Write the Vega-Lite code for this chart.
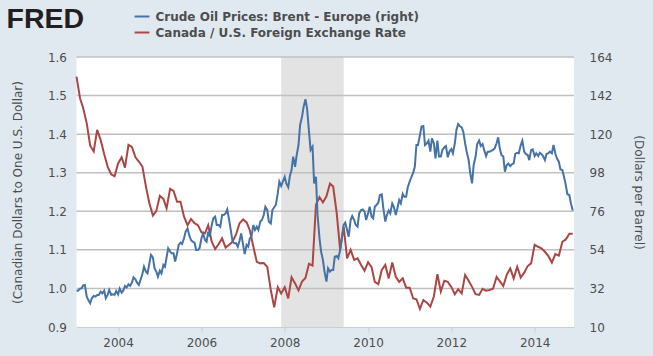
{"$schema":"https://vega.github.io/schema/vega-lite/v6.json","width":497.5,"height":270,"autosize":{"type":"none"},"padding":{"left":76.5,"top":57,"right":79,"bottom":29},"background":"#e1e9f0","title":{"text":"FRED","anchor":"start","frame":"group","dx":-70,"dy":48,"offset":0,"baseline":"alphabetic","font":"Liberation Sans","fontSize":28.5,"fontWeight":"bold","color":"#231f20"},"view":{"fill":"#ffffff","stroke":null},"datasets":{"recession":[{"start":"2007-12-01","end":"2009-06-01"}],"grid":[{"level":1.0},{"level":1.1},{"level":1.2},{"level":1.3},{"level":1.4},{"level":1.5},{"level":1.6}],"brent":[
{"date":"2003-01-01","usd":30.7},{"date":"2003-01-15","usd":30.7},{"date":"2003-02-01","usd":31.9},{"date":"2003-02-15","usd":32.1},{"date":"2003-03-01","usd":33.8},{"date":"2003-03-15","usd":34.0},{"date":"2003-04-01","usd":27.3},{"date":"2003-04-15","usd":25.4},{"date":"2003-05-01","usd":23.5},{"date":"2003-05-15","usd":26.4},{"date":"2003-06-01","usd":27.7},{"date":"2003-06-15","usd":27.3},{"date":"2003-07-01","usd":28.3},{"date":"2003-07-15","usd":28.3},{"date":"2003-08-01","usd":30.2},{"date":"2003-08-15","usd":29.2},{"date":"2003-09-01","usd":30.7},{"date":"2003-09-15","usd":26.4},{"date":"2003-10-01","usd":28.3},{"date":"2003-10-15","usd":31.1},{"date":"2003-11-01","usd":28.3},{"date":"2003-11-15","usd":28.6},{"date":"2003-12-01","usd":28.3},{"date":"2003-12-15","usd":30.5},
{"date":"2004-01-01","usd":28.6},{"date":"2004-01-15","usd":31.9},{"date":"2004-02-01","usd":29.6},{"date":"2004-02-15","usd":30.7},{"date":"2004-03-01","usd":33.4},{"date":"2004-03-15","usd":32.6},{"date":"2004-04-01","usd":34.3},{"date":"2004-04-15","usd":33.4},{"date":"2004-05-01","usd":35.3},{"date":"2004-05-15","usd":38.3},{"date":"2004-06-01","usd":37.2},{"date":"2004-06-15","usd":35.3},{"date":"2004-07-01","usd":34.0},{"date":"2004-07-15","usd":36.8},{"date":"2004-08-01","usd":40.2},{"date":"2004-08-15","usd":44.4},{"date":"2004-09-01","usd":41.6},{"date":"2004-09-15","usd":40.6},{"date":"2004-10-01","usd":46.3},{"date":"2004-10-15","usd":51.1},{"date":"2004-11-01","usd":49.7},{"date":"2004-11-15","usd":43.5},{"date":"2004-12-01","usd":41.6},{"date":"2004-12-15","usd":38.7},
{"date":"2005-01-01","usd":42.1},{"date":"2005-01-15","usd":40.6},{"date":"2005-02-01","usd":45.4},{"date":"2005-02-15","usd":44.4},{"date":"2005-03-01","usd":49.7},{"date":"2005-03-15","usd":54.9},{"date":"2005-04-01","usd":53.0},{"date":"2005-04-15","usd":52.0},{"date":"2005-05-01","usd":52.0},{"date":"2005-05-15","usd":47.3},{"date":"2005-06-01","usd":52.0},{"date":"2005-06-15","usd":56.8},{"date":"2005-07-01","usd":58.1},{"date":"2005-07-15","usd":57.3},{"date":"2005-08-01","usd":60.6},{"date":"2005-08-15","usd":64.4},{"date":"2005-09-01","usd":66.3},{"date":"2005-09-15","usd":62.5},{"date":"2005-10-01","usd":59.6},{"date":"2005-10-15","usd":58.7},{"date":"2005-11-01","usd":58.1},{"date":"2005-11-15","usd":53.9},{"date":"2005-12-01","usd":53.9},{"date":"2005-12-15","usd":54.9},
{"date":"2006-01-01","usd":60.6},{"date":"2006-01-15","usd":63.4},{"date":"2006-02-01","usd":59.6},{"date":"2006-02-15","usd":58.7},{"date":"2006-03-01","usd":64.4},{"date":"2006-03-15","usd":61.5},{"date":"2006-04-01","usd":68.2},{"date":"2006-04-15","usd":72.0},{"date":"2006-05-01","usd":72.9},{"date":"2006-05-15","usd":68.2},{"date":"2006-06-01","usd":68.2},{"date":"2006-06-15","usd":67.2},{"date":"2006-07-01","usd":73.9},{"date":"2006-07-15","usd":73.9},{"date":"2006-08-01","usd":74.8},{"date":"2006-08-15","usd":77.1},{"date":"2006-09-01","usd":71.0},{"date":"2006-09-15","usd":65.3},{"date":"2006-10-01","usd":58.7},{"date":"2006-10-15","usd":57.7},{"date":"2006-11-01","usd":57.7},{"date":"2006-11-15","usd":55.8},{"date":"2006-12-01","usd":59.2},{"date":"2006-12-15","usd":63.4},
{"date":"2007-01-01","usd":56.8},{"date":"2007-01-15","usd":51.6},{"date":"2007-02-01","usd":56.8},{"date":"2007-02-15","usd":55.8},{"date":"2007-03-01","usd":60.6},{"date":"2007-03-15","usd":61.5},{"date":"2007-04-01","usd":68.2},{"date":"2007-04-15","usd":65.3},{"date":"2007-05-01","usd":67.2},{"date":"2007-05-15","usd":65.3},{"date":"2007-06-01","usd":70.1},{"date":"2007-06-15","usd":71.0},{"date":"2007-07-01","usd":73.9},{"date":"2007-07-15","usd":78.6},{"date":"2007-08-01","usd":76.7},{"date":"2007-08-15","usd":70.1},{"date":"2007-09-01","usd":69.1},{"date":"2007-09-15","usd":76.7},{"date":"2007-10-01","usd":78.3},{"date":"2007-10-15","usd":79.6},{"date":"2007-11-01","usd":86.2},{"date":"2007-11-15","usd":92.9},{"date":"2007-12-01","usd":90.4},{"date":"2007-12-15","usd":92.9},
{"date":"2008-01-01","usd":95.7},{"date":"2008-01-15","usd":91.9},{"date":"2008-02-01","usd":89.7},{"date":"2008-02-15","usd":96.1},{"date":"2008-03-01","usd":99.5},{"date":"2008-03-15","usd":107.2},{"date":"2008-04-01","usd":101.4},{"date":"2008-04-15","usd":108.1},{"date":"2008-05-01","usd":113.8},{"date":"2008-05-15","usd":125.2},{"date":"2008-06-01","usd":130.0},{"date":"2008-06-15","usd":135.7},{"date":"2008-07-01","usd":139.9},{"date":"2008-07-15","usd":134.7},{"date":"2008-08-01","usd":121.4},{"date":"2008-08-15","usd":111.0},{"date":"2008-09-01","usd":112.9},{"date":"2008-09-15","usd":91.9},{"date":"2008-10-01","usd":95.7},{"date":"2008-10-15","usd":73.9},{"date":"2008-11-01","usd":60.6},{"date":"2008-11-15","usd":53.0},{"date":"2008-12-01","usd":48.2},{"date":"2008-12-15","usd":41.6},
{"date":"2009-01-01","usd":35.9},{"date":"2009-01-15","usd":43.5},{"date":"2009-02-01","usd":41.6},{"date":"2009-02-15","usd":42.5},{"date":"2009-03-01","usd":42.5},{"date":"2009-03-15","usd":50.1},{"date":"2009-04-01","usd":50.5},{"date":"2009-04-15","usd":49.2},{"date":"2009-05-01","usd":53.9},{"date":"2009-05-15","usd":60.6},{"date":"2009-06-01","usd":68.2},{"date":"2009-06-15","usd":69.5},{"date":"2009-07-01","usd":65.3},{"date":"2009-07-15","usd":61.5},{"date":"2009-08-01","usd":71.0},{"date":"2009-08-15","usd":73.3},{"date":"2009-09-01","usd":71.0},{"date":"2009-09-15","usd":68.2},{"date":"2009-10-01","usd":67.2},{"date":"2009-10-15","usd":74.8},{"date":"2009-11-01","usd":76.7},{"date":"2009-11-15","usd":77.1},{"date":"2009-12-01","usd":75.8},{"date":"2009-12-15","usd":71.0},
{"date":"2010-01-01","usd":74.8},{"date":"2010-01-15","usd":78.6},{"date":"2010-02-01","usd":72.9},{"date":"2010-02-15","usd":72.0},{"date":"2010-03-01","usd":78.6},{"date":"2010-03-15","usd":79.6},{"date":"2010-04-01","usd":80.9},{"date":"2010-04-15","usd":85.3},{"date":"2010-05-01","usd":85.7},{"date":"2010-05-15","usd":77.7},{"date":"2010-06-01","usd":70.1},{"date":"2010-06-15","usd":73.9},{"date":"2010-07-01","usd":76.4},{"date":"2010-07-15","usd":74.8},{"date":"2010-08-01","usd":80.5},{"date":"2010-08-15","usd":78.6},{"date":"2010-09-01","usd":73.9},{"date":"2010-09-15","usd":77.7},{"date":"2010-10-01","usd":82.4},{"date":"2010-10-15","usd":80.5},{"date":"2010-11-01","usd":85.9},{"date":"2010-11-15","usd":84.3},{"date":"2010-12-01","usd":84.3},{"date":"2010-12-15","usd":89.7},
{"date":"2011-01-01","usd":92.9},{"date":"2011-01-15","usd":95.4},{"date":"2011-02-01","usd":98.0},{"date":"2011-02-15","usd":101.4},{"date":"2011-03-01","usd":113.8},{"date":"2011-03-15","usd":113.8},{"date":"2011-04-01","usd":119.5},{"date":"2011-04-15","usd":124.3},{"date":"2011-05-01","usd":124.6},{"date":"2011-05-15","usd":113.8},{"date":"2011-06-01","usd":114.8},{"date":"2011-06-15","usd":116.3},{"date":"2011-07-01","usd":110.0},{"date":"2011-07-15","usd":117.6},{"date":"2011-08-01","usd":114.8},{"date":"2011-08-15","usd":106.2},{"date":"2011-09-01","usd":116.3},{"date":"2011-09-15","usd":107.2},{"date":"2011-10-01","usd":107.2},{"date":"2011-10-15","usd":111.0},{"date":"2011-11-01","usd":112.5},{"date":"2011-11-15","usd":113.2},{"date":"2011-12-01","usd":106.8},{"date":"2011-12-15","usd":110.0},
{"date":"2012-01-01","usd":111.5},{"date":"2012-01-15","usd":109.1},{"date":"2012-02-01","usd":114.8},{"date":"2012-02-15","usd":122.4},{"date":"2012-03-01","usd":125.8},{"date":"2012-03-15","usd":124.6},{"date":"2012-04-01","usd":123.9},{"date":"2012-04-15","usd":121.4},{"date":"2012-05-01","usd":114.8},{"date":"2012-05-15","usd":110.0},{"date":"2012-06-01","usd":105.2},{"date":"2012-06-15","usd":97.6},{"date":"2012-07-01","usd":91.9},{"date":"2012-07-15","usd":102.4},{"date":"2012-08-01","usd":107.2},{"date":"2012-08-15","usd":114.4},{"date":"2012-09-01","usd":116.3},{"date":"2012-09-15","usd":113.2},{"date":"2012-10-01","usd":114.4},{"date":"2012-10-15","usd":111.0},{"date":"2012-11-01","usd":107.5},{"date":"2012-11-15","usd":110.0},{"date":"2012-12-01","usd":110.0},{"date":"2012-12-15","usd":110.4},
{"date":"2013-01-01","usd":111.0},{"date":"2013-01-15","usd":111.9},{"date":"2013-02-01","usd":114.8},{"date":"2013-02-15","usd":118.2},{"date":"2013-03-01","usd":111.9},{"date":"2013-03-15","usd":108.1},{"date":"2013-04-01","usd":107.2},{"date":"2013-04-15","usd":98.6},{"date":"2013-05-01","usd":102.4},{"date":"2013-05-15","usd":103.3},{"date":"2013-06-01","usd":101.8},{"date":"2013-06-15","usd":102.8},{"date":"2013-07-01","usd":103.3},{"date":"2013-07-15","usd":108.7},{"date":"2013-08-01","usd":109.4},{"date":"2013-08-15","usd":109.1},{"date":"2013-09-01","usd":113.8},{"date":"2013-09-15","usd":116.3},{"date":"2013-10-01","usd":110.0},{"date":"2013-10-15","usd":108.7},{"date":"2013-11-01","usd":108.1},{"date":"2013-11-15","usd":105.2},{"date":"2013-12-01","usd":111.0},{"date":"2013-12-15","usd":111.3},
{"date":"2014-01-01","usd":107.5},{"date":"2014-01-15","usd":109.1},{"date":"2014-02-01","usd":107.5},{"date":"2014-02-15","usd":109.4},{"date":"2014-03-01","usd":108.7},{"date":"2014-03-15","usd":107.5},{"date":"2014-04-01","usd":105.2},{"date":"2014-04-15","usd":108.7},{"date":"2014-05-01","usd":109.1},{"date":"2014-05-15","usd":110.0},{"date":"2014-06-01","usd":109.1},{"date":"2014-06-15","usd":113.8},{"date":"2014-07-01","usd":109.1},{"date":"2014-07-15","usd":106.2},{"date":"2014-08-01","usd":104.3},{"date":"2014-08-15","usd":99.9},{"date":"2014-09-01","usd":99.5},{"date":"2014-09-15","usd":95.7},{"date":"2014-10-01","usd":91.0},{"date":"2014-10-15","usd":85.7},{"date":"2014-11-01","usd":85.3},{"date":"2014-11-15","usd":80.5},{"date":"2014-12-01","usd":76.4}],
"cad":[
{"date":"2003-01-01","rate":1.549},{"date":"2003-02-01","rate":1.493},{"date":"2003-03-01","rate":1.467},{"date":"2003-04-01","rate":1.428},{"date":"2003-05-01","rate":1.370},{"date":"2003-06-01","rate":1.355},{"date":"2003-07-01","rate":1.411},{"date":"2003-08-01","rate":1.385},{"date":"2003-09-01","rate":1.348},{"date":"2003-10-01","rate":1.316},{"date":"2003-11-01","rate":1.296},{"date":"2003-12-01","rate":1.291},
{"date":"2004-01-01","rate":1.324},{"date":"2004-02-01","rate":1.340},{"date":"2004-03-01","rate":1.313},{"date":"2004-04-01","rate":1.372},{"date":"2004-05-01","rate":1.367},{"date":"2004-06-01","rate":1.340},{"date":"2004-07-01","rate":1.329},{"date":"2004-08-01","rate":1.316},{"date":"2004-09-01","rate":1.264},{"date":"2004-10-01","rate":1.221},{"date":"2004-11-01","rate":1.189},{"date":"2004-12-01","rate":1.201},
{"date":"2005-01-01","rate":1.240},{"date":"2005-02-01","rate":1.232},{"date":"2005-03-01","rate":1.208},{"date":"2005-04-01","rate":1.258},{"date":"2005-05-01","rate":1.253},{"date":"2005-06-01","rate":1.225},{"date":"2005-07-01","rate":1.225},{"date":"2005-08-01","rate":1.186},{"date":"2005-09-01","rate":1.164},{"date":"2005-10-01","rate":1.180},{"date":"2005-11-01","rate":1.169},{"date":"2005-12-01","rate":1.164},
{"date":"2006-01-01","rate":1.145},{"date":"2006-02-01","rate":1.143},{"date":"2006-03-01","rate":1.164},{"date":"2006-04-01","rate":1.121},{"date":"2006-05-01","rate":1.102},{"date":"2006-06-01","rate":1.115},{"date":"2006-07-01","rate":1.130},{"date":"2006-08-01","rate":1.106},{"date":"2006-09-01","rate":1.113},{"date":"2006-10-01","rate":1.121},{"date":"2006-11-01","rate":1.141},{"date":"2006-12-01","rate":1.169},
{"date":"2007-01-01","rate":1.179},{"date":"2007-02-01","rate":1.171},{"date":"2007-03-01","rate":1.151},{"date":"2007-04-01","rate":1.108},{"date":"2007-05-01","rate":1.069},{"date":"2007-06-01","rate":1.065},{"date":"2007-07-01","rate":1.066},{"date":"2007-08-01","rate":1.056},{"date":"2007-09-01","rate":0.996},{"date":"2007-10-01","rate":0.951},{"date":"2007-11-01","rate":1.003},{"date":"2007-12-01","rate":0.987},
{"date":"2008-01-01","rate":1.003},{"date":"2008-02-01","rate":0.974},{"date":"2008-03-01","rate":1.029},{"date":"2008-04-01","rate":1.013},{"date":"2008-05-01","rate":0.995},{"date":"2008-06-01","rate":1.018},{"date":"2008-07-01","rate":1.027},{"date":"2008-08-01","rate":1.064},{"date":"2008-09-01","rate":1.059},{"date":"2008-10-01","rate":1.217},{"date":"2008-11-01","rate":1.237},{"date":"2008-12-01","rate":1.223},
{"date":"2009-01-01","rate":1.239},{"date":"2009-02-01","rate":1.272},{"date":"2009-03-01","rate":1.264},{"date":"2009-04-01","rate":1.195},{"date":"2009-05-01","rate":1.100},{"date":"2009-06-01","rate":1.160},{"date":"2009-07-01","rate":1.078},{"date":"2009-08-01","rate":1.100},{"date":"2009-09-01","rate":1.074},{"date":"2009-10-01","rate":1.078},{"date":"2009-11-01","rate":1.061},{"date":"2009-12-01","rate":1.046},
{"date":"2010-01-01","rate":1.068},{"date":"2010-02-01","rate":1.055},{"date":"2010-03-01","rate":1.017},{"date":"2010-04-01","rate":1.011},{"date":"2010-05-01","rate":1.048},{"date":"2010-06-01","rate":1.061},{"date":"2010-07-01","rate":1.026},{"date":"2010-08-01","rate":1.067},{"date":"2010-09-01","rate":1.030},{"date":"2010-10-01","rate":1.017},{"date":"2010-11-01","rate":1.026},{"date":"2010-12-01","rate":1.002},
{"date":"2011-01-01","rate":1.002},{"date":"2011-02-01","rate":0.974},{"date":"2011-03-01","rate":0.972},{"date":"2011-04-01","rate":0.947},{"date":"2011-05-01","rate":0.970},{"date":"2011-06-01","rate":0.963},{"date":"2011-07-01","rate":0.953},{"date":"2011-08-01","rate":0.979},{"date":"2011-09-01","rate":1.037},{"date":"2011-10-01","rate":0.992},{"date":"2011-11-01","rate":1.020},{"date":"2011-12-01","rate":1.017},
{"date":"2012-01-01","rate":1.004},{"date":"2012-02-01","rate":0.985},{"date":"2012-03-01","rate":0.998},{"date":"2012-04-01","rate":0.987},{"date":"2012-05-01","rate":1.035},{"date":"2012-06-01","rate":1.020},{"date":"2012-07-01","rate":1.004},{"date":"2012-08-01","rate":0.985},{"date":"2012-09-01","rate":0.983},{"date":"2012-10-01","rate":0.999},{"date":"2012-11-01","rate":0.994},{"date":"2012-12-01","rate":0.996},
{"date":"2013-01-01","rate":0.999},{"date":"2013-02-01","rate":1.030},{"date":"2013-03-01","rate":1.019},{"date":"2013-04-01","rate":1.006},{"date":"2013-05-01","rate":1.035},{"date":"2013-06-01","rate":1.052},{"date":"2013-07-01","rate":1.026},{"date":"2013-08-01","rate":1.056},{"date":"2013-09-01","rate":1.028},{"date":"2013-10-01","rate":1.041},{"date":"2013-11-01","rate":1.058},{"date":"2013-12-01","rate":1.065},
{"date":"2014-01-01","rate":1.113},{"date":"2014-02-01","rate":1.108},{"date":"2014-03-01","rate":1.104},{"date":"2014-04-01","rate":1.095},{"date":"2014-05-01","rate":1.084},{"date":"2014-06-01","rate":1.067},{"date":"2014-07-01","rate":1.089},{"date":"2014-08-01","rate":1.085},{"date":"2014-09-01","rate":1.121},{"date":"2014-10-01","rate":1.127},{"date":"2014-11-01","rate":1.142},{"date":"2014-12-01","rate":1.142}]},
"layer":[
{"data":{"name":"recession"},"mark":{"type":"rect","color":"#e3e3e3"},"encoding":{"x":{"field":"start","type":"temporal","title":null,"scale":{"domain":["2003-01-01","2014-12-12"]},"axis":{"values":["2004-01-01","2006-01-01","2008-01-01","2010-01-01","2012-01-01","2014-01-01"],"format":"%Y","grid":false,"domainColor":"#c0d0e0","domainWidth":1,"tickColor":"#c0d0e0","tickWidth":1,"tickSize":5,"labelFont":"DejaVu Sans","labelFontSize":12,"labelColor":"#4d4d4d","labelPadding":5,"labelOverlap":false}},"x2":{"field":"end"}}},
{"data":{"name":"grid"},"mark":{"type":"rule","color":"#c0c0c0","strokeWidth":1.5},"encoding":{"y":{"field":"level","type":"quantitative","scale":{"domain":[0.9,1.6]},"axis":null}}},
{"data":{"name":"cad"},"mark":{"type":"line","strokeWidth":2},"encoding":{"x":{"field":"date","type":"temporal"},"y":{"field":"rate","type":"quantitative","scale":{"domain":[0.9,1.6],"nice":false,"zero":false},"axis":{"orient":"left","title":"(Canadian Dollars to One U.S. Dollar)","values":[0.9,1.0,1.1,1.2,1.3,1.4,1.5,1.6],"format":".1f","grid":false,"domain":false,"ticks":false,"labelFont":"DejaVu Sans","labelFontSize":12,"labelColor":"#4d4d4d","labelPadding":10,"titleFont":"DejaVu Sans","titleFontSize":12,"titleFontWeight":"normal","titleColor":"#4d4d4d","titlePadding":23}},"color":{"datum":"Canada / U.S. Foreign Exchange Rate"}}},
{"data":{"name":"brent"},"mark":{"type":"line","strokeWidth":2},"encoding":{"x":{"field":"date","type":"temporal"},"y":{"field":"usd","type":"quantitative","scale":{"domain":[10,164],"nice":false,"zero":false},"axis":{"orient":"right","title":"(Dollars per Barrel)","values":[10,32,54,76,98,120,142,164],"grid":false,"domain":false,"ticks":false,"labelFont":"DejaVu Sans","labelFontSize":12,"labelColor":"#4d4d4d","labelPadding":15,"titleFont":"DejaVu Sans","titleFontSize":12,"titleFontWeight":"normal","titleColor":"#4d4d4d","titlePadding":20}},"color":{"datum":"Crude Oil Prices: Brent - Europe (right)","scale":{"domain":["Crude Oil Prices: Brent - Europe (right)","Canada / U.S. Foreign Exchange Rate"],"range":["#4572a7","#aa4643"]},"legend":{"title":null,"orient":"none","legendX":57,"legendY":-49,"direction":"vertical","symbolType":"stroke","symbolStrokeWidth":2,"symbolSize":220,"labelFont":"DejaVu Sans","labelFontSize":12,"labelFontWeight":"bold","labelColor":"#4d4d4d","labelOffset":5,"rowPadding":1,"labelLimit":400}}}}
],
"resolve":{"scale":{"y":"independent"}},
"config":{"style":{"cell":{"fill":"#ffffff","stroke":null}}}}
